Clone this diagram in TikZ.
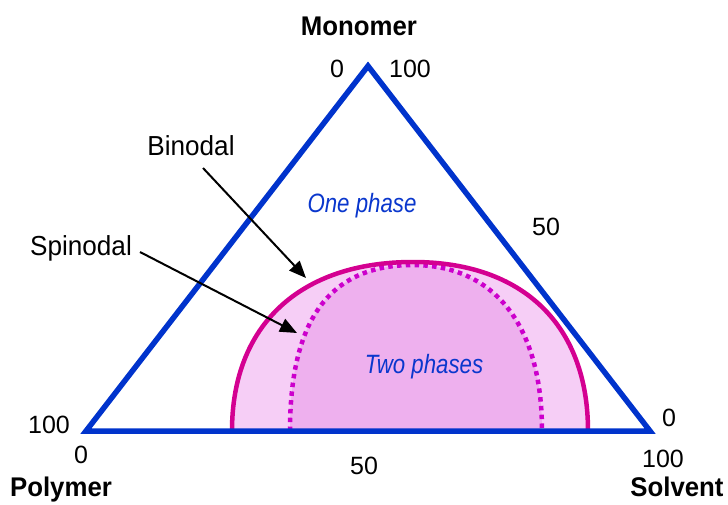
\documentclass[tikz,border=0pt]{standalone}
\usepackage{fontspec}
\setmainfont{Liberation Sans}
\newfontfamily\headfont[FakeStretch=0.955]{Liberation Sans}
\newfontfamily\curvefont[FakeStretch=0.95]{Liberation Sans}
\newfontfamily\narrowfont[FakeStretch=0.84]{Liberation Sans}
\usetikzlibrary{arrows.meta}
\definecolor{triblue}{RGB}{0,51,204}
\definecolor{txtblue}{RGB}{10,55,205}
\definecolor{binmag}{RGB}{212,0,145}
\definecolor{spinmag}{RGB}{204,0,204}
\definecolor{lightpink}{RGB}{246,206,246}
\definecolor{midpink}{RGB}{238,176,238}
\begin{document}
\begin{tikzpicture}[x=1pt,y=-1pt,
  numlab/.style={anchor=base,inner sep=0pt,font=\fontsize{25}{30}\selectfont},
  cornerlab/.style={anchor=base,inner sep=0pt,font=\headfont\bfseries\fontsize{27}{32}\selectfont},
  curvelab/.style={anchor=base,inner sep=0pt,font=\curvefont\fontsize{27.5}{32}\selectfont},
  phaselab/.style={anchor=base,inner sep=0pt,text=txtblue,font=\narrowfont\itshape\fontsize{26.5}{31}\selectfont},
  triline/.style={draw=triblue,line width=5.5pt,line join=miter},
  binline/.style={draw=binmag,line width=4.5pt},
  spindots/.style={draw=spinmag,line width=4.5pt,dash pattern=on 4.5pt off 4.3pt},
  pointer/.style={draw=black,line width=2pt,-{Triangle[length=17pt,width=14pt]}}]
\useasboundingbox (0,0) rectangle (728,504);
% region fills
\coordinate (bl) at (232,431);
\coordinate (bt) at (413,262);
\coordinate (br) at (588,431);
\coordinate (sl) at (290,431);
\coordinate (st) at (413,265);
\coordinate (sr) at (542,431);
\fill[lightpink] (bl) .. controls (232,325) and (300,262) .. (bt) .. controls (523,262) and (588,325) .. (br) -- cycle;
\fill[midpink] (sl) .. controls (290,322) and (328,265) .. (st) .. controls (490,265) and (542,320) .. (sr) -- cycle;
\draw[spindots] (sl) .. controls (290,322) and (328,265) .. (st) .. controls (490,265) and (542,320) .. (sr);
\draw[binline] (bl) .. controls (232,325) and (300,262) .. (bt) .. controls (523,262) and (588,325) .. (br);
% triangle
\coordinate (apex) at (368,66);
\coordinate (left) at (86,431);
\coordinate (right) at (650,431);
\draw[triline] (apex) -- (left) -- (right) -- cycle;
% labels
\node[cornerlab] (mono) at (359,35) {Monomer};
\node[cornerlab] (poly) at (61,496) {Polymer};
\node[cornerlab] (solv) at (677,496) {Solvent};
\node[numlab] (n1) at (337,77) {0};
\node[numlab] (n2) at (410,77) {100};
\node[numlab] (n3) at (546,235) {50};
\node[numlab] (n4) at (669,426) {0};
\node[numlab] (n5) at (49,433) {100};
\node[numlab] (n6) at (81,463) {0};
\node[numlab] (n7) at (364,474) {50};
\node[numlab] (n8) at (663,467) {100};
\node[curvelab] (binlab) at (191,155) {Binodal};
\node[curvelab] (spinlab) at (81,255) {Spinodal};
\node[phaselab] (one) at (362,212) {One phase};
\node[phaselab] (two) at (424,373) {Two phases};
% pointers
\coordinate (binstart) at (203,168);
\coordinate (bintip) at (306,278);
\coordinate (spinstart) at (140,252);
\coordinate (spintip) at (297,333);
\draw[pointer] (binstart) -- (bintip);
\draw[pointer] (spinstart) -- (spintip);
\end{tikzpicture}
\end{document}
